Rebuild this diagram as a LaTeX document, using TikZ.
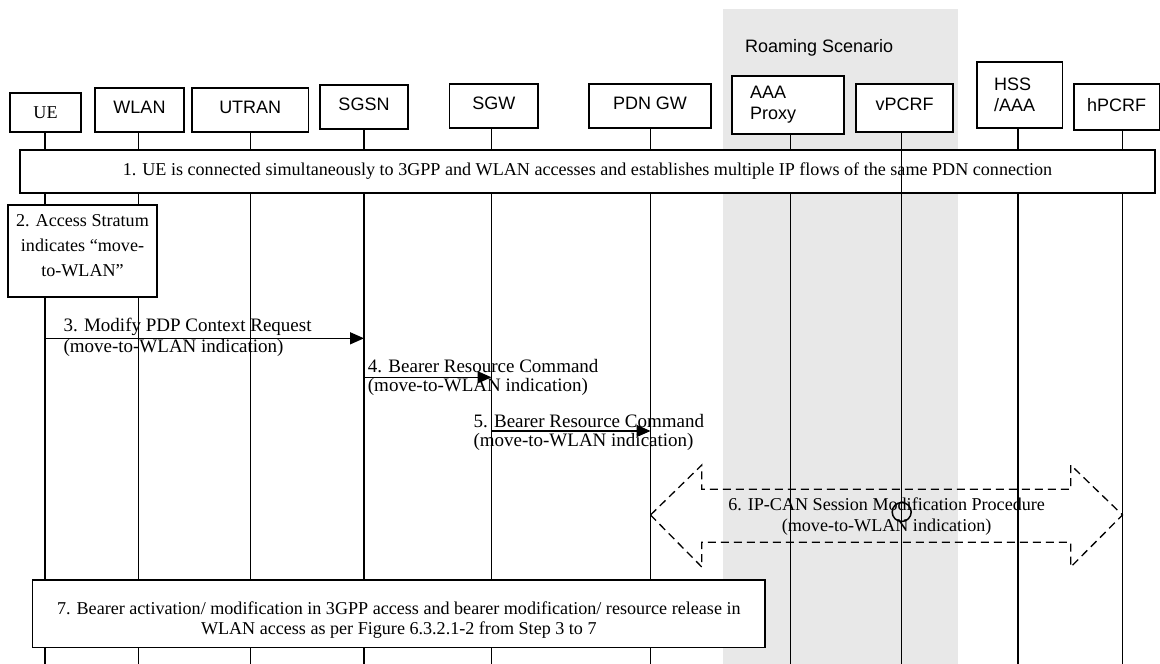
\documentclass[tikz,border=0pt]{standalone}
\usepackage{fontspec}
\setmainfont{Liberation Serif}
\setsansfont{Liberation Sans}
\usetikzlibrary{arrows.meta}
\definecolor{roam}{HTML}{E8E8E8}
\begin{document}
\begin{tikzpicture}[x=1pt,y=-1pt,
  ent/.style={draw,line width=1.5pt,fill=white,inner sep=0pt,font=\sffamily\fontsize{18}{21}\selectfont},
  hi/.style={text depth=5pt},
  life/.style={line width=1.5pt},
  bigbox/.style={draw,line width=1.5pt,fill=white,inner sep=0pt},
  txt/.style={inner sep=0pt,align=center},
  msg/.style={line width=1.5pt,-{Triangle[length=14pt,width=12pt]}},
  lbl/.style={font=\fontsize{19}{22}\selectfont,inner sep=0pt,anchor=west},
  dasharrow/.style={line width=1.3pt,dash pattern=on 8pt off 5pt},
]
\useasboundingbox (0,0) rectangle (1160,664);
\fill[roam] (723,9) rectangle (957.7,664);
\node[font=\sffamily\fontsize{18}{21}\selectfont,anchor=west,inner sep=0pt] (roaming) at (745,48) {Roaming Scenario};

% entities
\node[ent,minimum width=71pt,minimum height=39pt,font=\rmfamily\fontsize{18.1}{21}\selectfont] (ue) at (45.5,112.5) {UE};
\node[ent,hi,minimum width=89pt,minimum height=44pt] (wlan) at (139.5,110) {WLAN};
\node[ent,hi,minimum width=116.5pt,minimum height=44pt] (utran) at (250.25,110) {UTRAN};
\node[ent,hi,minimum width=88pt,minimum height=44pt] (sgsn) at (364,107) {SGSN};
\node[ent,hi,minimum width=88.5pt,minimum height=44pt] (sgw) at (493.75,106) {SGW};
\node[ent,hi,minimum width=122pt,minimum height=44pt] (pdn) at (650,106) {PDN GW};
\node[ent,minimum width=112pt,minimum height=58pt,align=left,text width=76pt,inner xsep=18pt] (aaa) at (788,105) {AAA\\Proxy};
\node[ent,minimum width=97pt,minimum height=48pt,text depth=7pt] (vpcrf) at (904.5,108) {vPCRF};
\node[ent,minimum width=85.4pt,minimum height=66pt,align=left,text width=51pt,inner xsep=17pt] (hss) at (1019.7,95) {HSS\\/AAA};
\node[ent,hi,minimum width=85.3pt,minimum height=46pt] (hpcrf) at (1116.6,107) {hPCRF};

% lifeline bottoms
\coordinate (Lue) at (45,664);
\coordinate (Lwlan) at (138.5,664);
\coordinate (Lutran) at (250.3,664);
\coordinate (Lsgsn) at (364,664);
\coordinate (Lsgw) at (491.5,664);
\coordinate (Lpdn) at (650.5,664);
\coordinate (Laaa) at (790.3,664);
\coordinate (Lvpcrf) at (901.7,664);
\coordinate (Lhss) at (1018,664);
\coordinate (Lhpcrf) at (1122.5,664);

\foreach \n in {ue,wlan,utran,sgsn,sgw,pdn,aaa,hss,hpcrf}
  \draw[life] (\n.south -| L\n) -- (L\n);

% step 1
\node[bigbox,minimum width=1135pt,minimum height=43pt,font=\fontsize{18.1}{22}\selectfont] (step1) at (587.5,171.5) {1. UE is connected simultaneously to 3GPP and WLAN accesses and establishes multiple IP flows of the same PDN connection};
\draw[life] (vpcrf.south -| Lvpcrf) -- (Lvpcrf);

% step 2
\node[bigbox,minimum width=149pt,minimum height=92pt] (step2) at (82.5,251) {};
\node[txt,font=\fontsize{18.1}{25}\selectfont] (step2txt) at (82.5,245.5) {2. Access Stratum\\indicates “move-\\to-WLAN”};

% step 3
\draw[msg] (Lue |- 0,338.3) -- (Lsgsn |- 0,338.3);
\node[lbl] (l3a) at (63.3,326.7) {3. Modify PDP Context Request};
\node[lbl] (l3b) at (63.3,348.3) {(move-to-WLAN indication)};

% step 4
\draw[msg] (Lsgsn |- 0,377.3) -- (Lsgw |- 0,377.3);
\node[lbl] (l4a) at (367.7,366) {4. Bearer Resource Command};
\node[lbl] (l4b) at (367.7,387) {(move-to-WLAN indication)};

% step 5
\draw[msg] (Lsgw |- 0,431) -- (Lpdn |- 0,431);
\node[lbl] (l5a) at (473.3,421) {5. Bearer Resource Command};
\node[lbl] (l5b) at (473.3,442) {(move-to-WLAN indication)};

% step 6
\draw[dasharrow] (Lpdn |- 0,515) -- (701.8,465) -- (701.8,489.3) -- (1070.7,489.3) -- (1070.7,465)
  -- (Lhpcrf |- 0,515) -- (1070.7,567) -- (1070.7,542.3) -- (701.8,542.3) -- (701.8,567) -- cycle;
\node[txt,font=\fontsize{18.1}{21}\selectfont] (step6) at (886.6,517) {6. IP-CAN Session Modification Procedure\\(move-to-WLAN indication)};
\node[circle,draw,line width=1.5pt,minimum size=19pt,inner sep=0pt] (mark) at (Lvpcrf |- 0,512) {};

% step 7
\node[bigbox,minimum width=732.4pt,minimum height=67.7pt] (step7) at (398.8,613.85) {};
\node[txt,font=\fontsize{18.1}{20}\selectfont] (step7txt) at (398.8,620) {7. Bearer activation/ modification in 3GPP access and bearer modification/ resource release in\\WLAN access as per Figure 6.3.2.1-2 from Step 3 to 7};
\end{tikzpicture}
\end{document}
